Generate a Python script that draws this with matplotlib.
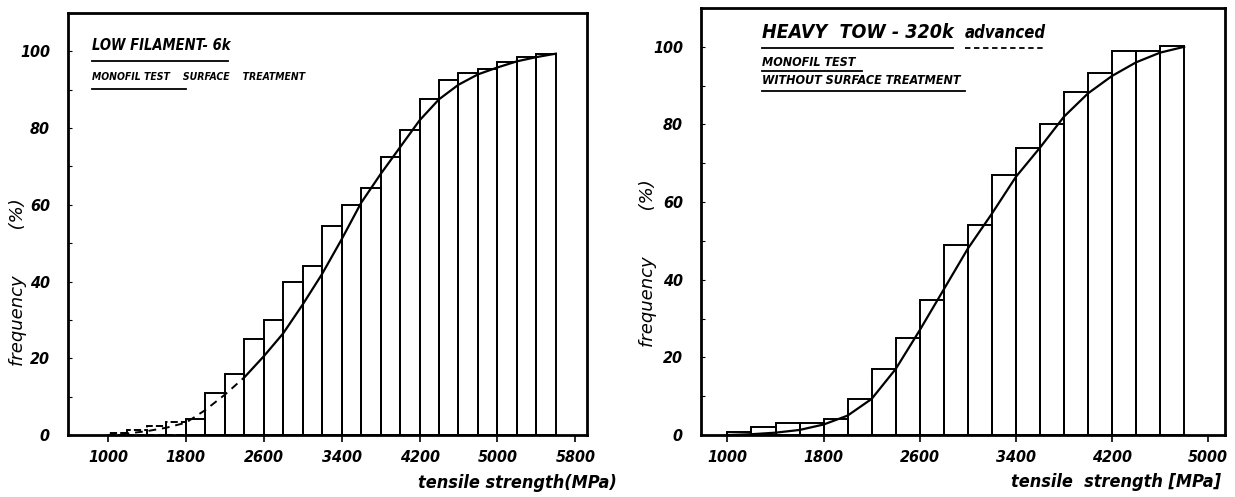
import numpy as np
import matplotlib
matplotlib.use('Agg')
import matplotlib.pyplot as plt
from matplotlib.lines import Line2D

W, H = 1235, 497

# ---------------------------------------------------------------- data
left_edges = [1000, 1200, 1400, 1600, 1800, 2000, 2200, 2400, 2600, 2800, 3000, 3200,
              3400, 3600, 3800, 4000, 4200, 4400, 4600, 4800, 5000, 5200, 5400]
left_heights = [0.6, 1.3, 2.3, 3.5, 4.2, 11, 16, 25, 30, 40, 44, 54.5,
                60, 64.5, 72.5, 79.5, 87.5, 92.5, 94.3, 95.3, 97.3, 98.5, 99.3]
left_curve_x = [1000, 1200, 1400, 1600, 1800, 2000, 2200, 2400, 2600, 2800, 3000, 3200,
                3400, 3600, 3800, 4000, 4200, 4400, 4600, 4800, 5000, 5200, 5400, 5600]
left_curve_y = [0, 0.4, 1.0, 1.9, 3.2, 6.5, 10.5, 15, 20.5, 26.5, 34, 42,
                51, 60.5, 68, 75, 82, 87.5, 91.3, 94, 95.8, 97.4, 98.5, 99.4]

right_edges = [1000, 1200, 1400, 1600, 1800, 2000, 2200, 2400, 2600, 2800,
               3000, 3200, 3400, 3600, 3800, 4000, 4200, 4400, 4600]
right_heights = [0.9, 2.0, 3.0, 3.2, 4.0, 9.2, 17, 25, 34.8, 49,
                 54, 67, 74, 80, 88.4, 93.3, 99, 99, 100.3]
right_curve_x = [1000, 1200, 1400, 1600, 1800, 2000, 2200, 2400, 2600, 2800,
                 3000, 3200, 3400, 3600, 3800, 4000, 4200, 4400, 4600, 4800]
right_curve_y = [0, 0.2, 0.6, 1.3, 2.7, 5, 9.3, 17, 27, 37.5,
                 48, 57, 66.5, 74, 82, 88, 92.5, 96, 98.5, 100]

bin_width = 200
x_ticks_left = [1000, 1800, 2600, 3400, 4200, 5000, 5800]
x_ticks_right = [1000, 1800, 2600, 3400, 4200, 5000]
y_ticks = [0, 20, 40, 60, 80, 100]

# ---------------------------------------------------------------- style
plt.rcParams['font.family'] = ['DejaVu Sans']
FONT = dict(style='italic', weight='bold', stretch='condensed')

fig = plt.figure(figsize=(W / 100, H / 100), dpi=100)


def fx(x):
    return x / W


def fy(y):
    return 1 - y / H


def setup(ax, xlim, xticks):
    ax.set_xlim(*xlim)
    ax.set_ylim(0, 110)
    for s in ax.spines.values():
        s.set_linewidth(2.0)
    ax.set_xticks(xticks)
    ax.set_xticklabels([str(t) for t in xticks], fontsize=11.5, **FONT)
    ax.set_yticks(y_ticks)
    ax.set_yticklabels([str(t) for t in y_ticks], fontsize=11.5, **FONT)
    ax.set_yticks(np.arange(10, 110, 20), minor=True)
    ax.tick_params(axis='x', direction='out', length=5, width=1.2, pad=6)
    ax.tick_params(axis='y', which='both', direction='in', length=3, width=0.8, pad=13)


# ---------------------------------------------------------------- left panel
ax1 = fig.add_axes([fx(68), fy(435), fx(587) - fx(68), fy(13) - fy(435)])
setup(ax1, (590, 5920), x_ticks_left)
for e, h in zip(left_edges, left_heights):
    ls = '--' if e < 1800 else '-'
    ax1.bar(e, h, width=bin_width, align='edge', fill=False, edgecolor='black',
            linewidth=1.4, linestyle=ls)
lx = np.array(left_curve_x)
ly = np.array(left_curve_y)
cut = 7  # dashed up to 2400
ax1.plot(lx[:cut + 1], ly[:cut + 1], color='black', lw=1.4, ls=(0, (4, 3)))
ax1.plot(lx[cut:], ly[cut:], color='black', lw=1.6)

# ---------------------------------------------------------------- right panel
ax2 = fig.add_axes([fx(701), fy(435), fx(1225) - fx(701), fy(8) - fy(435)])
setup(ax2, (780, 5140), x_ticks_right)
ax2.bar(right_edges, right_heights, width=bin_width, align='edge', fill=False,
        edgecolor='black', linewidth=1.4)
ax2.plot(right_curve_x, right_curve_y, color='black', lw=1.6)

# ---------------------------------------------------------------- annotations
def uline(x0, x1, y, lw=1.3, ls='-'):
    fig.add_artist(Line2D([fx(x0), fx(x1)], [fy(y), fy(y)], color='black',
                          lw=lw, ls=ls, transform=fig.transFigure))


fig.text(fx(92), fy(46), 'LOW FILAMENT- 6k', fontsize=10.5, va='center', ha='left', **FONT)
uline(92, 228, 61)
fig.text(fx(92), fy(77), 'MONOFIL TEST    SURFACE    TREATMENT', fontsize=7.5,
         va='center', ha='left', **FONT)
uline(92, 186, 89)

fig.text(fx(762), fy(33), 'HEAVY  TOW - 320k', fontsize=14, va='center', ha='left', **FONT)
uline(762, 953, 48)
fig.text(fx(965), fy(33), 'advanced', fontsize=12, va='center', ha='left', **FONT)
uline(965, 1045, 48, ls=(0, (3, 2)))
fig.text(fx(762), fy(62), 'MONOFIL TEST', fontsize=9, va='center', ha='left', **FONT)
uline(762, 862, 71)
fig.text(fx(762), fy(80), 'WITHOUT SURFACE TREATMENT', fontsize=9, va='center',
         ha='left', **FONT)
uline(762, 965, 91)

fig.text(fx(18), fy(282), 'frequency        (%)', rotation=90, fontsize=13,
         va='center', ha='center', style='italic')
fig.text(fx(648), fy(263), 'frequency        (%)', rotation=90, fontsize=13,
         va='center', ha='center', style='italic')

fig.text(fx(617), fy(483), 'tensile strength(MPa)', fontsize=13, va='center',
         ha='right', **FONT)
fig.text(fx(1221), fy(482), 'tensile  strength [MPa]', fontsize=13, va='center',
         ha='right', **FONT)

fig.savefig('out.png', dpi=100)
